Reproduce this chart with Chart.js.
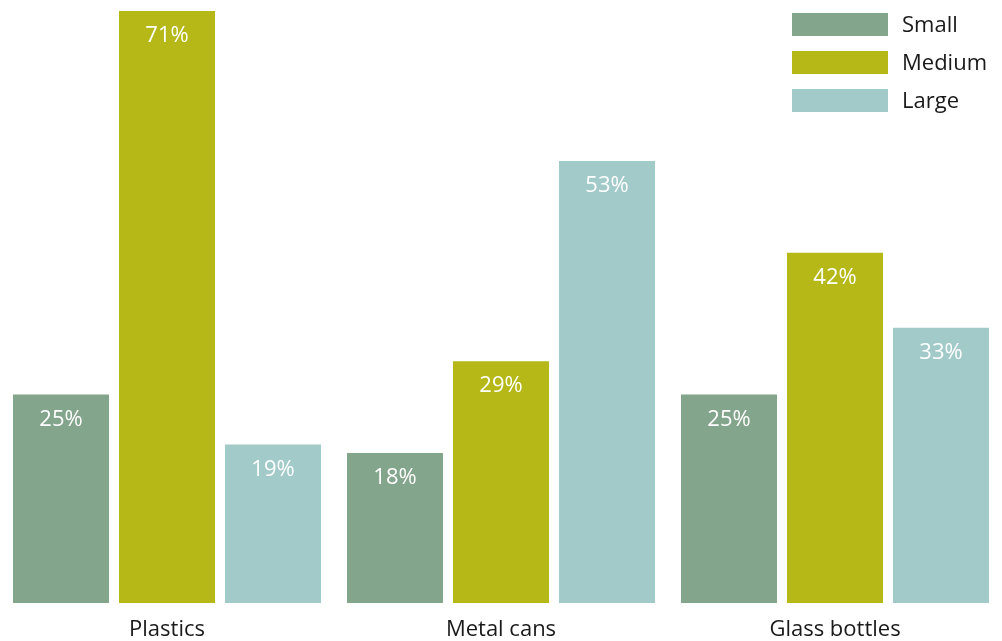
<html lang="en">
<head>
<meta charset="utf-8" />
<title>Container sizes</title>
<script src="https://cdn.jsdelivr.net/npm/chart.js@4/dist/chart.umd.min.js"></script>
<style>
  * { margin: 0; padding: 0; box-sizing: border-box; }
  body { background: #ffffff; width: 1002px; height: 641px; overflow: hidden; }
  .wrap { position: relative; width: 1002px; height: 641px; }
</style>
</head>
<body>
<div class="wrap"><canvas id="chart"></canvas></div>
<script>
// data
const categories = ["Plastics", "Metal cans", "Glass bottles"];
const seriesNames = ["Small", "Medium", "Large"];
const small = [25, 18, 25];
const medium = [71, 29, 42];
const large = [19, 53, 33];
const colors = ["#83a58b", "#b5b817", "#a2cac9"];

const fontFamily = "'Open Sans', 'Noto Sans', sans-serif";

// white value labels near the top of each bar
const valueLabels = {
  id: "valueLabels",
  afterDatasetsDraw(chart) {
    const ctx = chart.ctx;
    ctx.save();
    ctx.fillStyle = "#ffffff";
    ctx.font = "22px " + fontFamily;
    ctx.textAlign = "center";
    ctx.textBaseline = "middle";
    chart.data.datasets.forEach((ds, i) => {
      chart.getDatasetMeta(i).data.forEach((bar, j) => {
        ctx.fillText(ds.data[j] + "%", bar.x, bar.y + 25);
      });
    });
    ctx.restore();
  }
};

// legend in the top right corner, boxes stacked
const cornerLegend = {
  id: "cornerLegend",
  afterDraw(chart) {
    const ctx = chart.ctx;
    ctx.save();
    ctx.font = "22px " + fontFamily;
    ctx.textAlign = "left";
    ctx.textBaseline = "alphabetic";
    chart.data.datasets.forEach((ds, i) => {
      const y = 13 + i * 38;
      ctx.fillStyle = ds.backgroundColor;
      ctx.fillRect(792, y, 96, 23);
      ctx.fillStyle = "#1a1a1a";
      ctx.fillText(ds.label, 902, y + 19);
    });
    ctx.restore();
  }
};

new Chart(document.getElementById("chart"), {
  type: "bar",
  plugins: [valueLabels, cornerLegend],
  data: {
    labels: categories,
    datasets: [
      { label: seriesNames[0], data: small, backgroundColor: colors[0] },
      { label: seriesNames[1], data: medium, backgroundColor: colors[1] },
      { label: seriesNames[2], data: large, backgroundColor: colors[2] }
    ]
  },
  options: {
    responsive: true,
    maintainAspectRatio: false,
    animation: false,
    layout: { padding: { top: 11, left: 0, right: 0, bottom: 0 } },
    datasets: {
      bar: { categoryPercentage: 0.952, barPercentage: 0.906, borderWidth: 0 }
    },
    plugins: {
      legend: { display: false },
      tooltip: { enabled: false }
    },
    scales: {
      x: {
        grid: { display: false, drawTicks: false },
        border: { display: false },
        afterFit: (scale) => { scale.height = 38; },
        ticks: {
          color: "#1a1a1a",
          padding: 14,
          font: { family: fontFamily, size: 22 }
        }
      },
      y: {
        display: false,
        min: 0,
        max: 71
      }
    }
  }
});
</script>
</body>
</html>
